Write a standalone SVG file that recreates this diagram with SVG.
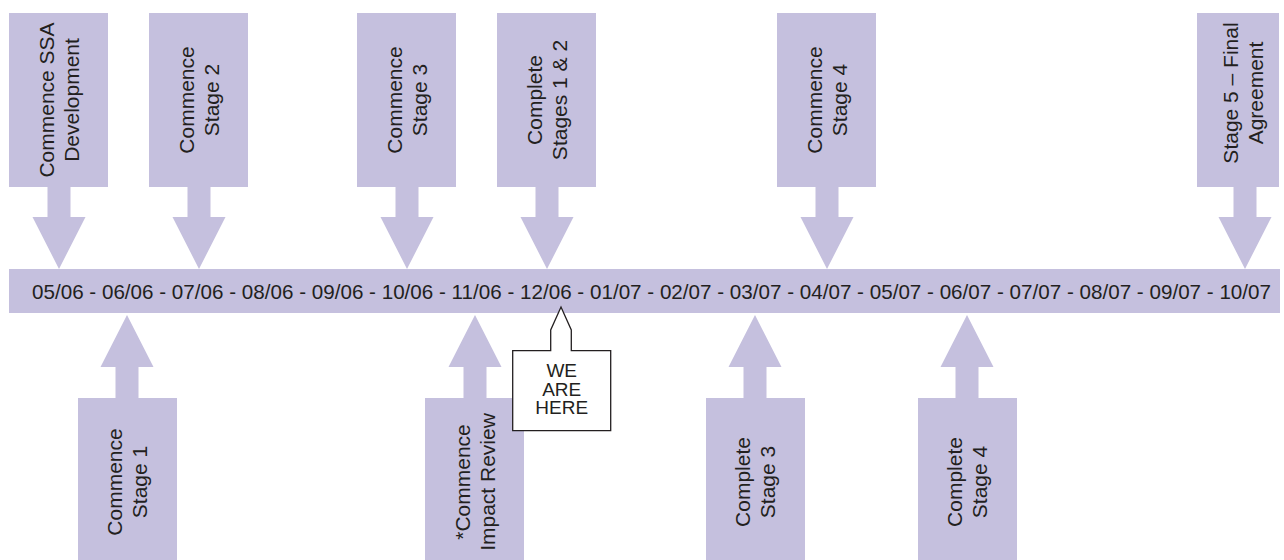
<svg xmlns="http://www.w3.org/2000/svg" width="1284" height="560" viewBox="0 0 1284 560">
<style>
.fill{fill:#c5c0de}
.lbl{font-family:"Liberation Sans",Arial,Helvetica,sans-serif;font-size:21px;fill:#231f20;text-anchor:middle}
.date{font-family:"Liberation Sans",Arial,Helvetica,sans-serif;font-size:20.6px;fill:#231f20}
.call{font-family:"Liberation Sans",Arial,Helvetica,sans-serif;font-size:19px;fill:#231f20;text-anchor:middle}
</style>
<rect width="1284" height="560" fill="#ffffff"/>
<g id="connectors" class="fill">
<path d="M47.5,187 V217 H32.5 L59,269 L85.5,217 H70.5 V187 Z"/>
<path d="M187.5,187 V217 H172.5 L199,269 L225.5,217 H210.5 V187 Z"/>
<path d="M395.5,187 V217 H380.5 L407,269 L433.5,217 H418.5 V187 Z"/>
<path d="M535.5,187 V217 H520.5 L547,269 L573.5,217 H558.5 V187 Z"/>
<path d="M815.5,187 V217 H800.5 L827,269 L853.5,217 H838.5 V187 Z"/>
<path d="M1233.5,187 V217 H1218.5 L1245,269 L1271.5,217 H1256.5 V187 Z"/>
<path d="M115.5,398 V367 H100.5 L127,315 L153.5,367 H138.5 V398 Z"/>
<path d="M463.5,398 V367 H448.5 L475,315 L501.5,367 H486.5 V398 Z"/>
<path d="M743.5,398 V367 H728.5 L755,315 L781.5,367 H766.5 V398 Z"/>
<path d="M955.5,398 V367 H940.5 L967,315 L993.5,367 H978.5 V398 Z"/>
</g>
<g id="timeline">
<rect class="fill" x="9" y="269" width="1271" height="44"/>
<text class="date" x="32" y="299" textLength="1239" lengthAdjust="spacing">05/06 - 06/06 - 07/06 - 08/06 - 09/06 - 10/06 - 11/06 - 12/06 - 01/07 - 02/07 - 03/07 - 04/07 - 05/07 - 06/07 - 07/07 - 08/07 - 09/07 - 10/07</text>
</g>
<g id="commence-ssa">
<rect class="fill" x="9" y="13" width="99" height="174"/>
<g transform="translate(59,100) rotate(-90)"><text class="lbl" y="-5">Commence SSA</text><text class="lbl" y="20">Development</text></g>
</g>
<g id="commence-stage2">
<rect class="fill" x="149" y="13" width="99" height="174"/>
<g transform="translate(199,100) rotate(-90)"><text class="lbl" y="-5">Commence</text><text class="lbl" y="20">Stage 2</text></g>
</g>
<g id="commence-stage3">
<rect class="fill" x="357" y="13" width="99" height="174"/>
<g transform="translate(407,100) rotate(-90)"><text class="lbl" y="-5">Commence</text><text class="lbl" y="20">Stage 3</text></g>
</g>
<g id="complete-stages-1-2">
<rect class="fill" x="497" y="13" width="99" height="174"/>
<g transform="translate(547,100) rotate(-90)"><text class="lbl" y="-5">Complete</text><text class="lbl" y="20">Stages 1 &amp; 2</text></g>
</g>
<g id="commence-stage4">
<rect class="fill" x="777" y="13" width="99" height="174"/>
<g transform="translate(827,100) rotate(-90)"><text class="lbl" y="-5">Commence</text><text class="lbl" y="20">Stage 4</text></g>
</g>
<g id="stage5-final">
<rect class="fill" x="1197" y="13" width="82" height="174"/>
<g transform="translate(1243,93) rotate(-90)"><text class="lbl" y="-5">Stage 5 – Final</text><text class="lbl" y="20">Agreement</text></g>
</g>
<g id="commence-stage1">
<rect class="fill" x="78" y="398" width="99" height="162"/>
<g transform="translate(127,482) rotate(-90)"><text class="lbl" y="-5">Commence</text><text class="lbl" y="20">Stage 1</text></g>
</g>
<g id="commence-impact-review">
<rect class="fill" x="425" y="398" width="99" height="162"/>
<g transform="translate(475,482) rotate(-90)"><text class="lbl" y="-5">*Commence</text><text class="lbl" y="20">Impact Review</text></g>
</g>
<g id="complete-stage3">
<rect class="fill" x="706" y="398" width="99" height="162"/>
<g transform="translate(755,482) rotate(-90)"><text class="lbl" y="-5">Complete</text><text class="lbl" y="20">Stage 3</text></g>
</g>
<g id="complete-stage4">
<rect class="fill" x="918" y="398" width="99" height="162"/>
<g transform="translate(967,482) rotate(-90)"><text class="lbl" y="-5">Complete</text><text class="lbl" y="20">Stage 4</text></g>
</g>
<g id="we-are-here">
<path d="M512.7,350.7 H550.7 V330 L561,307 L571.3,330 V350.7 H610.7 V430.7 H512.7 Z" fill="#ffffff" stroke="#231f20" stroke-width="1.3" stroke-linejoin="miter"/>
<text class="call" x="561.7" y="377">WE</text>
<text class="call" x="561.7" y="395.5">ARE</text>
<text class="call" x="561.7" y="414">HERE</text>
</g>
</svg>
